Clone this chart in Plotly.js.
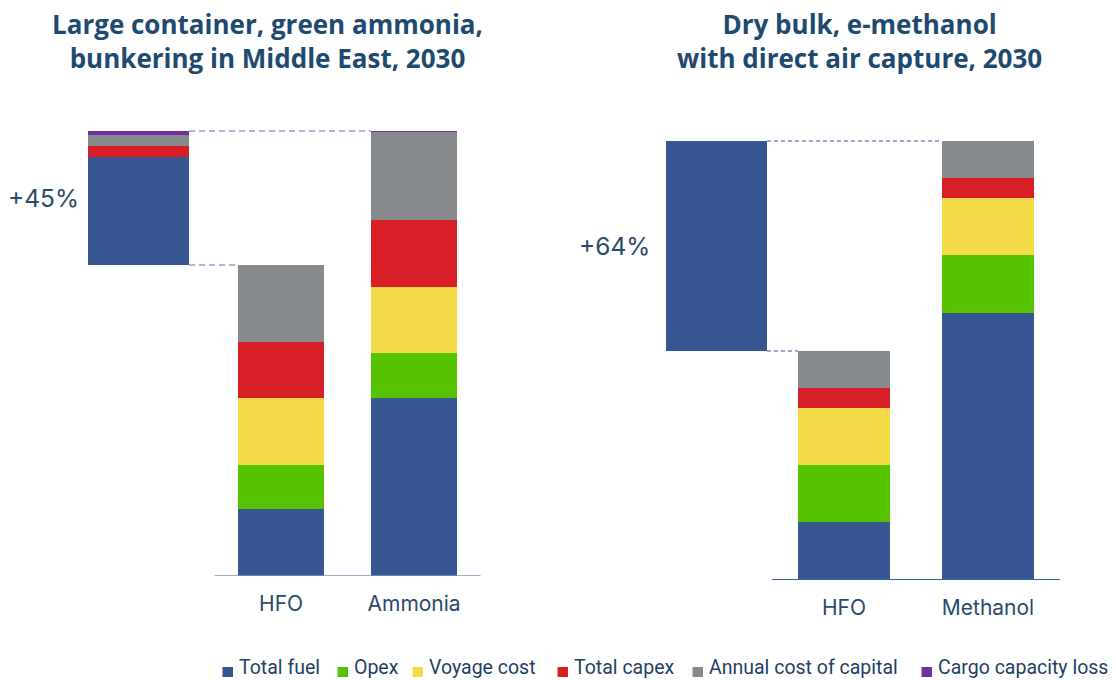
<!DOCTYPE html>
<html>
<head>
<meta charset="utf-8">
<script src="https://cdn.plot.ly/plotly-3.0.1.min.js"></script>
<style>html,body{margin:0;padding:0;background:#fff}#chart{width:1116px;height:680px}</style>
</head>
<body>
<div id="chart"></div>
<script>
// ---- data ----
const seriesNames = ['Total fuel', 'Opex', 'Voyage cost', 'Total capex', 'Annual cost of capital', 'Cargo capacity loss'];
const leftCategories = ['HFO', 'Ammonia'];
const rightCategories = ['HFO', 'Methanol'];
// values per series (same order as seriesNames)
const leftHFO      = [67, 44, 67, 56, 77, 0];
const leftAmmonia  = [178, 45, 66, 67, 88, 1];
const leftDelta    = [108, 0, 0, 11, 11, 4.5];
const rightHFO     = [58, 57, 57, 20, 37, 0];
const rightMethanol= [267, 58, 57, 20, 37, 0];
const rightDelta   = [210, 0, 0, 0, 0, 0];
const leftDeltaLabel = '+45%';
const rightDeltaLabel = '+64%';
const leftTitle = 'Large container, green ammonia,<br>bunkering in Middle East, 2030';
const rightTitle = 'Dry bulk, e-methanol<br>with direct air capture, 2030';

// ---- styles / layout constants ----
const seriesColors = ['#375793', '#57c200', '#f5da47', '#d81f26', '#878a8c', '#7030a0'];
const textColor = '#1e4a70';
const fontFam = 'Inter, Roboto, sans-serif';
const W = 1116, H = 680;
const legendTextX = [238, 353, 428, 573, 708, 937]; // px where each legend label starts

const sum = a => a.reduce((s, v) => s + v, 0);

const panels = [
  {hfo: leftHFO, alt: leftAmmonia, delta: leftDelta, cats: leftCategories, xa: 'x', ya: 'y',
   deltaPos: -1.071, w: 0.647, wd: 0.759, label: leftDeltaLabel, labelShift: -7,
   dashColor: '#8fa2cc', dash: '6px,4px', dashW: 1.5, axisColor: '#7f95c2', axisW: 1.5},
  {hfo: rightHFO, alt: rightMethanol, delta: rightDelta, cats: rightCategories, xa: 'x2', ya: 'y2',
   deltaPos: -0.885, w: 0.639, wd: 0.70, label: rightDeltaLabel, labelShift: -14,
   dashColor: '#3b5a9a', dash: '4px,3px', dashW: 1.2, axisColor: '#3f5fa0', axisW: 2}
];

const traces = [];
const shapes = [];
const annotations = [];

panels.forEach(p => {
  const hfoTotal = sum(p.hfo);
  const altTotal = sum(p.alt);
  const deltaTotal = sum(p.delta);
  // invisible spacer to float the difference bar
  traces.push({
    type: 'bar', x: [p.deltaPos], y: [hfoTotal], width: [p.wd], xaxis: p.xa, yaxis: p.ya,
    marker: {color: 'rgba(0,0,0,0)'}, showlegend: false, hoverinfo: 'skip'
  });
  seriesNames.forEach((name, i) => {
    traces.push({
      type: 'bar', name: name, legendgroup: name, showlegend: false,
      x: [p.deltaPos, 0, 1], y: [p.delta[i], p.hfo[i], p.alt[i]],
      width: [p.wd, p.w, p.w], xaxis: p.xa, yaxis: p.ya,
      marker: {color: seriesColors[i], line: {width: 0}}
    });
  });
  // baseline under the two stacks
  shapes.push({type: 'line', xref: p.xa, yref: p.ya, x0: -0.5, x1: 1.5, y0: 0, y1: 0,
    line: {color: p.axisColor, width: p.axisW}});
  // connector dashes
  shapes.push({type: 'line', xref: p.xa, yref: p.ya, x0: p.deltaPos + p.wd / 2, x1: 1 - p.w / 2,
    y0: altTotal, y1: altTotal, line: {color: p.dashColor, width: p.dashW, dash: p.dash}});
  shapes.push({type: 'line', xref: p.xa, yref: p.ya, x0: p.deltaPos + p.wd / 2, x1: -p.w / 2,
    y0: hfoTotal, y1: hfoTotal, line: {color: p.dashColor, width: p.dashW, dash: p.dash}});
  annotations.push({xref: p.xa, yref: p.ya, x: p.deltaPos - p.wd / 2, y: hfoTotal + deltaTotal / 2,
    xanchor: 'right', yanchor: 'middle', xshift: p.labelShift, showarrow: false, text: p.label,
    font: {family: fontFam, size: 24.5, color: '#2b4a6b'}});
});

// titles
const titleFont = {family: '"Open Sans", sans-serif', size: 26, color: textColor, weight: 700};
annotations.push({xref: 'paper', yref: 'paper', x: 267 / W, y: 1 - 41 / H, xanchor: 'center', yanchor: 'middle',
  showarrow: false, text: '<b>' + leftTitle + '</b>', font: titleFont});
annotations.push({xref: 'paper', yref: 'paper', x: 860 / W, y: 1 - 41 / H, xanchor: 'center', yanchor: 'middle',
  showarrow: false, text: '<b>' + rightTitle + '</b>', font: titleFont});

// legend (drawn as swatches + labels)
seriesNames.forEach((name, i) => {
  shapes.push({type: 'rect', xref: 'paper', yref: 'paper', x0: (legendTextX[i] - 15.5) / W, x1: (legendTextX[i] - 5) / W,
    y0: 1 - 677 / H, y1: 1 - 667 / H, fillcolor: seriesColors[i], line: {width: 0}});
  annotations.push({xref: 'paper', yref: 'paper', x: legendTextX[i] / W, y: 0,
    xanchor: 'left', yanchor: 'bottom', showarrow: false, text: name, borderpad: 0,
    font: {family: 'Roboto, sans-serif', size: 19.5, color: '#1f3f66'}});
});

const axisCommon = {showgrid: false, zeroline: false, showline: false, fixedrange: true};
const layout = {
  width: W, height: H,
  margin: {l: 0, r: 0, t: 0, b: 0, autoexpand: false},
  paper_bgcolor: '#fff', plot_bgcolor: 'rgba(0,0,0,0)',
  barmode: 'stack', bargap: 0,
  showlegend: false,
  xaxis: Object.assign({}, axisCommon, {domain: [0, 0.5], range: [-2.113, 2.082],
    tickvals: [0, 1], ticktext: leftCategories, ticks: 'outside', ticklen: 9, tickcolor: 'rgba(0,0,0,0)',
    tickfont: {family: fontFam, size: 21, color: '#2b4a6b'}, anchor: 'y'}),
  yaxis: Object.assign({}, axisCommon, {domain: [104 / H, 1], range: [0, 576], visible: false, anchor: 'x'}),
  xaxis2: Object.assign({}, axisCommon, {domain: [0.5, 1], range: [-1.986, 1.889],
    tickvals: [0, 1], ticktext: rightCategories, ticks: 'outside', ticklen: 9, tickcolor: 'rgba(0,0,0,0)',
    tickfont: {family: fontFam, size: 21, color: '#2b4a6b'}, anchor: 'y2'}),
  yaxis2: Object.assign({}, axisCommon, {domain: [100 / H, 1], range: [0, 580], visible: false, anchor: 'x2'}),
  shapes: shapes,
  annotations: annotations
};

Plotly.newPlot('chart', traces, layout, {displayModeBar: false, staticPlot: true});
</script>
</body>
</html>
